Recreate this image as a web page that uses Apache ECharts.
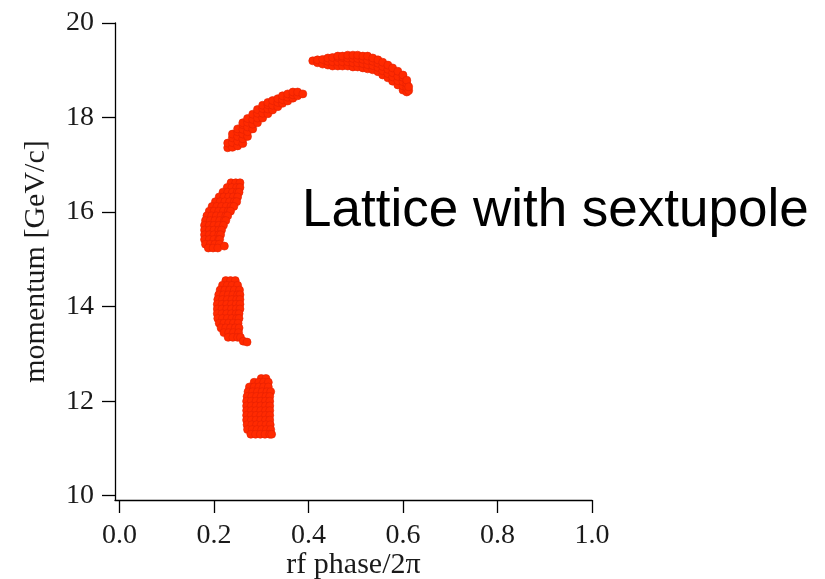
<!DOCTYPE html>
<html>
<head>
<meta charset="utf-8">
<title>Lattice with sextupole</title>
<script src="https://cdn.jsdelivr.net/npm/echarts@6/dist/echarts.min.js"></script>
<style>
  html, body { margin: 0; padding: 0; background: #fff; }
  #chart { width: 825px; height: 579px; }
</style>
</head>
<body>
<div id="chart"></div>
<script>
// Tick labels
const xTicks = [0.0, 0.2, 0.4, 0.6, 0.8, 1.0];
const yTicks = [10, 12, 14, 16, 18, 20];

// Macro-particle positions of each bunch: [rf phase/2π, momentum GeV/c]
const bunch1 = [
  [0.409,19.20],
  [0.419,19.16],[0.419,19.22],
  [0.430,19.13],[0.430,19.23],
  [0.441,19.11],[0.441,19.19],[0.441,19.26],
  [0.451,19.09],[0.451,19.18],[0.451,19.27],
  [0.462,19.09],[0.462,19.18],[0.462,19.27],[0.462,19.30],
  [0.472,19.09],[0.472,19.18],[0.472,19.27],[0.472,19.30],
  [0.483,19.09],[0.483,19.18],[0.483,19.26],[0.483,19.32],
  [0.494,19.07],[0.494,19.16],[0.494,19.25],[0.494,19.32],
  [0.504,19.07],[0.504,19.16],[0.504,19.25],[0.504,19.32],
  [0.515,19.05],[0.515,19.14],[0.515,19.23],[0.515,19.30],
  [0.525,19.03],[0.525,19.12],[0.525,19.21],[0.525,19.30],
  [0.536,19.01],[0.536,19.10],[0.536,19.19],[0.536,19.26],
  [0.547,18.97],[0.547,19.06],[0.547,19.15],[0.547,19.22],
  [0.557,18.90],[0.557,18.99],[0.557,19.08],[0.557,19.17],
  [0.568,18.84],[0.568,18.93],[0.568,19.02],[0.568,19.11],
  [0.578,18.77],[0.578,18.86],[0.578,18.95],[0.578,19.05],
  [0.589,18.69],[0.589,18.78],[0.589,18.87],[0.589,18.98],
  [0.600,18.58],[0.600,18.67],[0.600,18.76],[0.600,18.85],[0.600,18.90],
  [0.608,18.54],[0.608,18.63],[0.608,18.72],[0.608,18.79],
  [0.612,18.57],[0.612,18.65]
];

const bunch2 = [
  [0.229,17.36],[0.229,17.46],
  [0.239,17.37],[0.239,17.47],[0.239,17.57],[0.239,17.65],
  [0.250,17.40],[0.250,17.50],[0.250,17.60],[0.250,17.70],[0.250,17.76],
  [0.261,17.45],[0.261,17.55],[0.261,17.65],[0.261,17.75],[0.261,17.85],[0.261,17.89],
  [0.271,17.60],[0.271,17.70],[0.271,17.80],[0.271,17.90],[0.271,17.98],
  [0.282,17.76],[0.282,17.86],[0.282,17.96],[0.282,18.07],
  [0.292,17.89],[0.292,17.99],[0.292,18.09],[0.292,18.17],
  [0.303,17.99],[0.303,18.09],[0.303,18.19],[0.303,18.26],
  [0.314,18.08],[0.314,18.18],[0.314,18.27],[0.314,18.32],
  [0.324,18.16],[0.324,18.26],[0.324,18.36],
  [0.335,18.23],[0.335,18.32],[0.335,18.40],
  [0.345,18.30],[0.345,18.38],[0.345,18.46],
  [0.356,18.35],[0.356,18.43],[0.356,18.50],
  [0.367,18.41],[0.367,18.48],[0.367,18.54],
  [0.377,18.46],[0.377,18.54],
  [0.388,18.50]
];

const bunch3 = [
  [0.236,16.62],[0.246,16.62],[0.255,16.62],
  [0.228,16.52],[0.238,16.52],[0.248,16.52],[0.255,16.52],
  [0.219,16.42],[0.229,16.42],[0.239,16.42],[0.249,16.42],[0.253,16.42],
  [0.211,16.32],[0.221,16.32],[0.231,16.32],[0.241,16.32],[0.250,16.32],
  [0.203,16.22],[0.213,16.22],[0.223,16.22],[0.233,16.22],[0.243,16.22],[0.248,16.22],
  [0.196,16.12],[0.206,16.12],[0.216,16.12],[0.226,16.12],[0.236,16.12],[0.242,16.12],
  [0.190,16.02],[0.200,16.02],[0.210,16.02],[0.220,16.02],[0.230,16.02],[0.235,16.02],
  [0.185,15.92],[0.195,15.92],[0.205,15.92],[0.215,15.92],[0.225,15.92],[0.229,15.92],
  [0.182,15.82],[0.192,15.82],[0.202,15.82],[0.212,15.82],[0.222,15.82],[0.225,15.82],
  [0.180,15.72],[0.190,15.72],[0.200,15.72],[0.210,15.72],[0.220,15.72],
  [0.180,15.62],[0.190,15.62],[0.200,15.62],[0.210,15.62],[0.216,15.62],
  [0.180,15.52],[0.190,15.52],[0.200,15.52],[0.210,15.52],[0.214,15.52],
  [0.180,15.42],[0.190,15.42],[0.200,15.42],[0.210,15.42],[0.212,15.42],
  [0.182,15.32],[0.192,15.32],[0.202,15.32],[0.211,15.32],
  [0.188,15.24],[0.198,15.24],[0.208,15.24],
  [0.222,15.28]
];

const bunch4 = [
  [0.225,14.55],[0.235,14.55],[0.245,14.55],
  [0.218,14.45],[0.228,14.45],[0.238,14.45],[0.250,14.45],
  [0.213,14.35],[0.223,14.35],[0.233,14.35],[0.243,14.35],[0.254,14.35],
  [0.210,14.25],[0.220,14.25],[0.230,14.25],[0.240,14.25],[0.250,14.25],[0.255,14.25],
  [0.208,14.15],[0.218,14.15],[0.228,14.15],[0.238,14.15],[0.248,14.15],[0.255,14.15],
  [0.207,14.05],[0.217,14.05],[0.227,14.05],[0.237,14.05],[0.247,14.05],[0.255,14.05],
  [0.207,13.95],[0.217,13.95],[0.227,13.95],[0.237,13.95],[0.247,13.95],[0.255,13.95],
  [0.207,13.85],[0.217,13.85],[0.227,13.85],[0.237,13.85],[0.247,13.85],[0.253,13.85],
  [0.208,13.75],[0.218,13.75],[0.228,13.75],[0.238,13.75],[0.248,13.75],[0.253,13.75],
  [0.211,13.65],[0.221,13.65],[0.231,13.65],[0.241,13.65],[0.251,13.65],
  [0.215,13.55],[0.225,13.55],[0.235,13.55],[0.245,13.55],[0.253,13.55],
  [0.221,13.45],[0.231,13.45],[0.241,13.45],[0.252,13.45],
  [0.230,13.35],[0.240,13.35],[0.250,13.35],[0.256,13.35],
  [0.262,13.27],[0.270,13.25]
];

const bunch5 = [
  [0.300,12.48],[0.310,12.48],
  [0.285,12.40],[0.295,12.40],[0.305,12.40],[0.315,12.40],
  [0.275,12.30],[0.285,12.30],[0.295,12.30],[0.305,12.30],[0.315,12.30],
  [0.272,12.20],[0.282,12.20],[0.292,12.20],[0.302,12.20],[0.312,12.20],[0.320,12.20],
  [0.270,12.10],[0.280,12.10],[0.290,12.10],[0.300,12.10],[0.310,12.10],[0.318,12.10],
  [0.269,12.00],[0.279,12.00],[0.289,12.00],[0.299,12.00],[0.309,12.00],[0.318,12.00],
  [0.269,11.90],[0.279,11.90],[0.289,11.90],[0.299,11.90],[0.309,11.90],[0.318,11.90],
  [0.269,11.80],[0.279,11.80],[0.289,11.80],[0.299,11.80],[0.309,11.80],[0.318,11.80],
  [0.269,11.70],[0.279,11.70],[0.289,11.70],[0.299,11.70],[0.309,11.70],[0.318,11.70],
  [0.269,11.60],[0.279,11.60],[0.289,11.60],[0.299,11.60],[0.309,11.60],[0.318,11.60],
  [0.270,11.50],[0.280,11.50],[0.290,11.50],[0.300,11.50],[0.310,11.50],[0.319,11.50],
  [0.271,11.40],[0.281,11.40],[0.291,11.40],[0.301,11.40],[0.311,11.40],[0.320,11.40],
  [0.278,11.30],[0.288,11.30],[0.298,11.30],[0.308,11.30],[0.318,11.30],[0.322,11.30]
];

const bunches = [bunch1, bunch2, bunch3, bunch4, bunch5];

const serif = '"Liberation Serif", "DejaVu Serif", serif';
const inkColor = '#1a1a1a';

const chart = echarts.init(document.getElementById('chart'), null, { renderer: 'canvas' });

const axisCommon = {
  axisLine: { show: true, onZero: false, lineStyle: { color: '#000', width: 1.3 } },
  axisTick: { show: true, inside: false, length: 13, lineStyle: { color: '#000', width: 1.3 } },
  splitLine: { show: false },
  nameTextStyle: { fontFamily: serif, fontSize: 30, color: inkColor },
};

chart.setOption({
  animation: false,
  backgroundColor: '#fff',
  title: {
    text: 'Lattice with sextupole',
    left: 302,
    top: 185,
    padding: 0,
    textStyle: {
      fontFamily: '"Liberation Sans", Arial, sans-serif',
      fontSize: 53,
      fontWeight: 'normal',
      color: '#000'
    }
  },
  grid: {
    left: 115, top: 23, right: 233, bottom: 79,
    containLabel: false,
    outerBoundsMode: 'none'
  },
  xAxis: Object.assign({}, axisCommon, {
    type: 'value',
    min: -0.0095,
    max: 1.0,
    name: 'rf phase/2π',
    nameLocation: 'middle',
    nameGap: 50,
    nameMoveOverlap: false,
    axisTick: Object.assign({}, axisCommon.axisTick, { customValues: xTicks }),
    axisLabel: {
      customValues: xTicks,
      formatter: v => v.toFixed(1),
      fontFamily: serif, fontSize: 28, color: inkColor, margin: 22
    }
  }),
  yAxis: Object.assign({}, axisCommon, {
    type: 'value',
    min: 9.909,
    max: 20,
    name: 'momentum [GeV/c]',
    nameLocation: 'middle',
    nameRotate: 90,
    nameGap: 64,
    axisTick: Object.assign({}, axisCommon.axisTick, { customValues: yTicks }),
    axisLabel: {
      customValues: yTicks,
      formatter: v => String(v),
      fontFamily: serif, fontSize: 28, color: inkColor, margin: 21
    }
  }),
  series: bunches.map((data, i) => ({
    name: 'bunch ' + (i + 1),
    type: 'scatter',
    data: data,
    symbol: 'circle',
    symbolSize: 8,
    itemStyle: { color: '#ff2a00', borderColor: '#e42000', borderWidth: 0.6, opacity: 1 },
    emphasis: { disabled: true }
  }))
});
</script>
</body>
</html>
